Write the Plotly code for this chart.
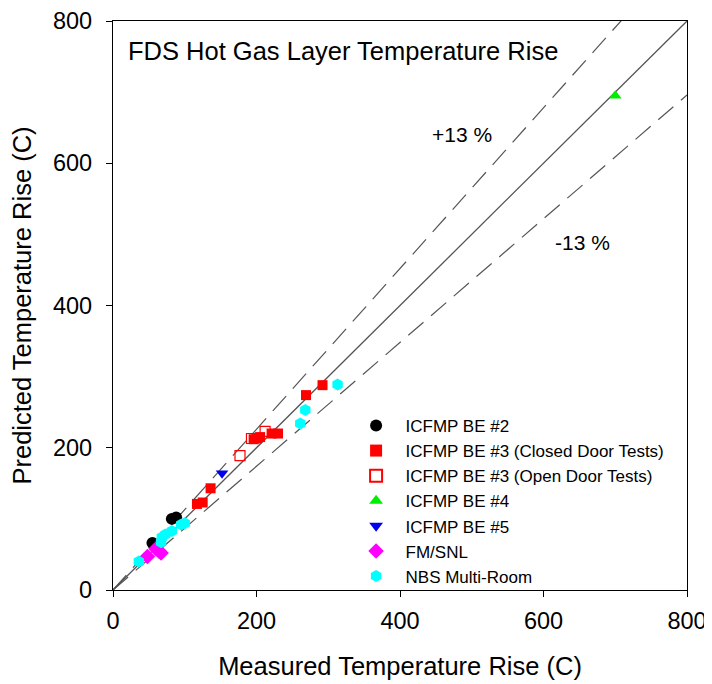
import plotly.graph_objects as go

# ---- data (measured, predicted) ----
be2_x = [55, 82, 88]
be2_y = [66, 100, 102]
be3c_x = [117, 125, 136, 196, 200, 205, 221, 230, 269, 292]
be3c_y = [121, 123, 143, 212, 213, 215, 220, 220, 274, 288]
be3o_x = [177, 193, 212]
be3o_y = [189, 213, 223]
be4_x = [700]
be4_y = [695]
be5_x = [152]
be5_y = [164]
fm_x = [48, 60, 64, 67]
fm_y = [47, 58, 55, 52]
nbs_x = [36, 67, 68, 73, 82, 95, 100, 261, 268, 313]
nbs_y = [40, 67, 74, 78, 83, 92, 94, 234, 253, 289]

series_names = ["ICFMP BE #2", "ICFMP BE #3 (Closed Door Tests)", "ICFMP BE #3 (Open Door Tests)",
                "ICFMP BE #4", "ICFMP BE #5", "FM/SNL", "NBS Multi-Room"]

ref_x = [0, 800]
uncert = 0.13
axis_ticks = [0, 200, 400, 600, 800]

FONT = "Liberation Sans, Arial, sans-serif"

fig = go.Figure()

# reference lines
fig.add_trace(go.Scatter(x=ref_x, y=ref_x, mode="lines", line=dict(color="#555555", width=1.3),
                         showlegend=False, hoverinfo="skip"))
fig.add_trace(go.Scatter(x=ref_x, y=[v * (1 + uncert) for v in ref_x], mode="lines",
                         line=dict(color="#555555", width=1.2, dash="20px,10px"),
                         showlegend=False, hoverinfo="skip"))
fig.add_trace(go.Scatter(x=ref_x, y=[v * (1 - uncert) for v in ref_x], mode="lines",
                         line=dict(color="#555555", width=1.2, dash="20px,10px"),
                         showlegend=False, hoverinfo="skip"))

specs = [
    (be2_x, be2_y, "circle", "black", 12),
    (be3c_x, be3c_y, "square", "red", 10),
    (be3o_x, be3o_y, "square-open", "red", 10),
    (be4_x, be4_y, "triangle-up", "#00ee00", 11),
    (be5_x, be5_y, "triangle-down", "#0000ee", 11),
    (fm_x, fm_y, "diamond", "#ff00ff", 12),
    (nbs_x, nbs_y, "hexagon", "cyan", 12),
]
for (xs, ys, sym, col, sz), name in zip(specs, series_names):
    fig.add_trace(go.Scatter(x=xs, y=ys, mode="markers", name="\u00a0\u00a0" + name,
                             marker=dict(symbol=sym, color=col, size=sz,
                                         line=dict(color=col, width=1.2 if "open" in sym else 0))))

fig.add_annotation(x=0.0225, y=0.948, xref="paper", yref="paper", xanchor="left", yanchor="middle",
                   text="FDS Hot Gas Layer Temperature Rise", showarrow=False,
                   font=dict(size=25.5, color="black", family=FONT))
fig.add_annotation(x=486, y=640, text="+13 %", showarrow=False,
                   font=dict(size=21, color="black", family=FONT))
fig.add_annotation(x=655, y=488, text="-13 %", showarrow=False,
                   font=dict(size=21, color="black", family=FONT))

axis_common = dict(range=[0, 800], tickvals=axis_ticks, ticks="outside", ticklen=6,
                   tickcolor="black", showline=True, linecolor="black", linewidth=1.2,
                   mirror=True, showgrid=False, zeroline=False, automargin=False,
                   ticklabeloverflow="allow",
                   tickfont=dict(size=23.5, color="black", family=FONT))
fig.update_xaxes(**axis_common, ticklabelstandoff=4,
                 title=dict(text="Measured Temperature Rise (C)",
                            font=dict(size=25.5, color="black", family=FONT), standoff=23))
fig.update_yaxes(**axis_common, ticklabelstandoff=9,
                 title=dict(text="Predicted Temperature Rise (C)",
                            font=dict(size=25.5, color="black", family=FONT), standoff=15))

fig.update_layout(
    width=704, height=676,
    margin=dict(l=105, r=25, t=13, b=94),
    plot_bgcolor="white", paper_bgcolor="white",
    font=dict(family=FONT, color="black"),
    legend=dict(x=0.4235, y=0.32, xanchor="left", yanchor="top", bgcolor="rgba(0,0,0,0)",
                font=dict(size=17, color="black", family=FONT), tracegroupgap=0,
                itemsizing="constant"),
)

fig.write_html("out.html")
